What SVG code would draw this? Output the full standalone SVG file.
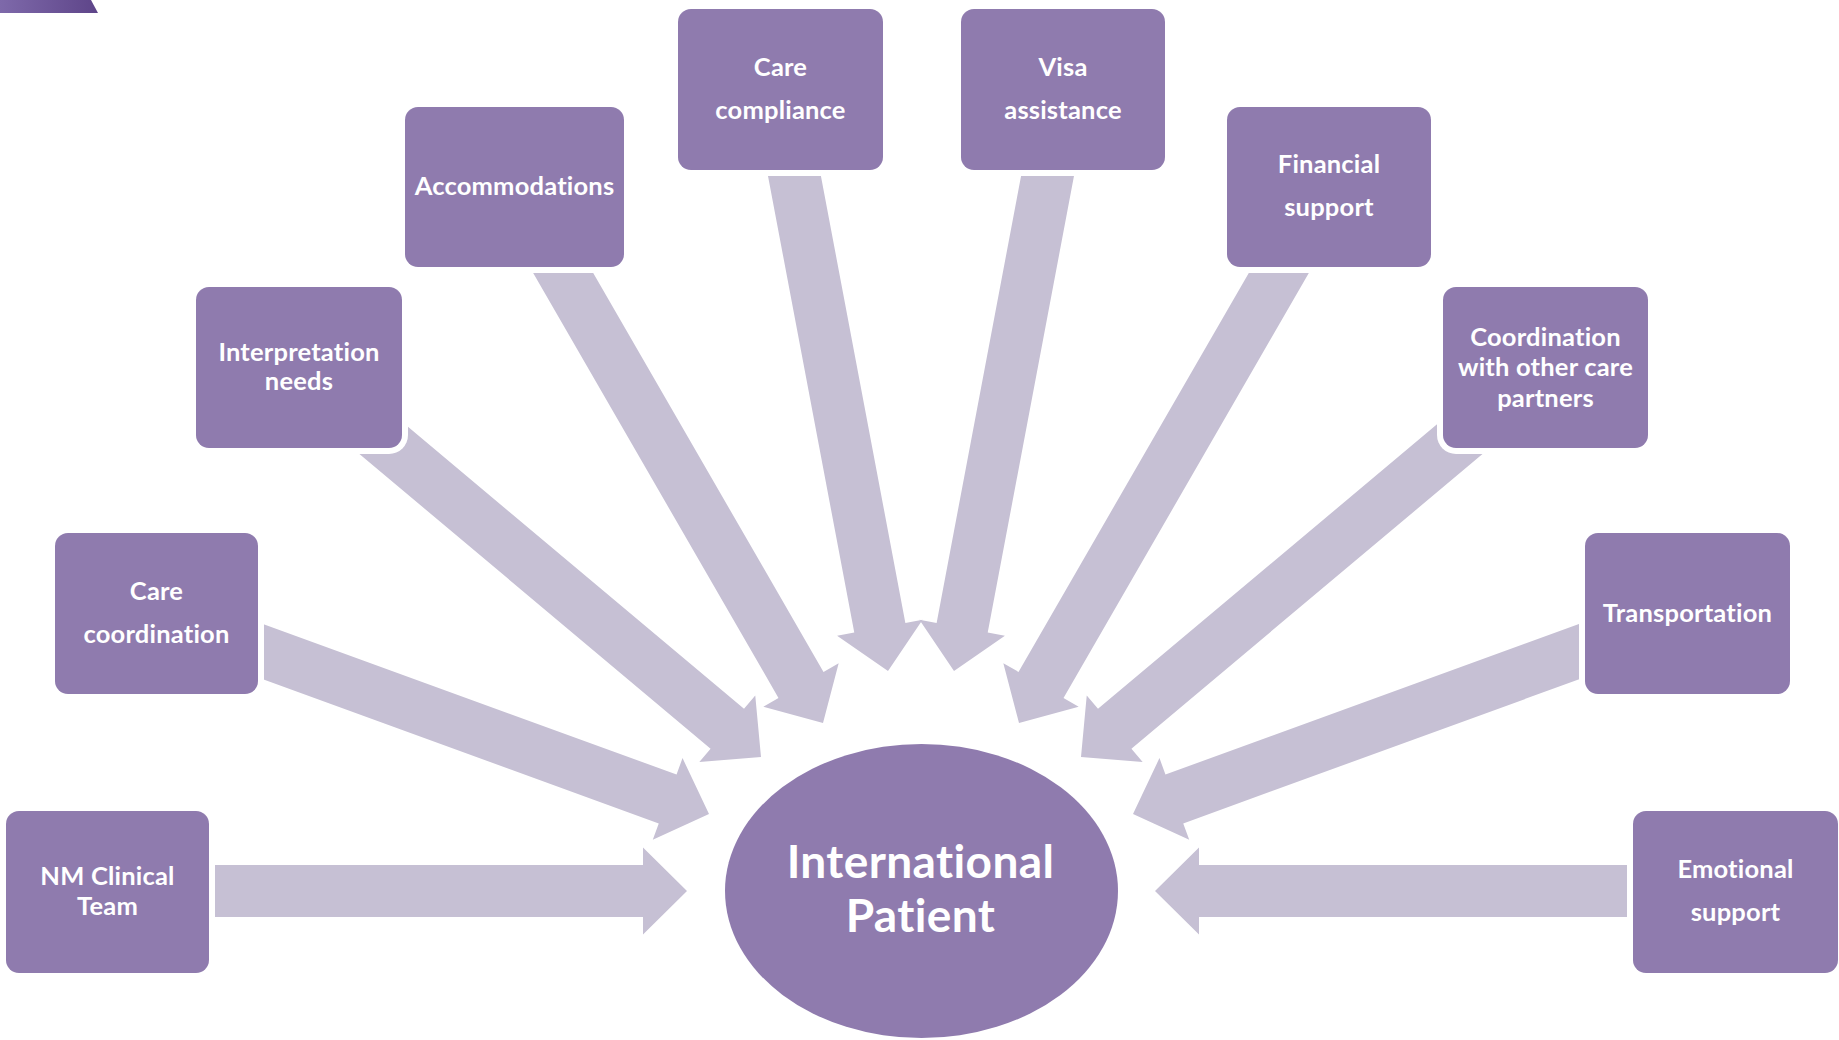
<svg xmlns="http://www.w3.org/2000/svg" xmlns:xlink="http://www.w3.org/1999/xlink" width="1839" height="1040" viewBox="0 0 1839 1040">
<defs>
<style>
.arrow{fill:#C6C0D4}
.halo{fill:#FFFFFF}
.box{fill:#8F7BAE}
.lbl{font-family:Lato,"Open Sans","Liberation Sans",sans-serif;font-weight:700;font-size:25.5px;fill:#FFFFFF;text-anchor:middle;font-variant-ligatures:none;font-feature-settings:"liga" 0,"clig" 0;letter-spacing:0.2px}
.big{font-size:46px;letter-spacing:0.4px}
</style>
<polygon id="arr" points="-560,-26 -44,-26 -44,-43.5 0,0 -44,43.5 -44,26 -560,26"/>
<linearGradient id="cornerGrad" x1="0" y1="0" x2="1" y2="0">
<stop offset="0" stop-color="#7E69AA"/>
<stop offset="1" stop-color="#5E4589"/>
</linearGradient>
</defs>
<rect x="0" y="0" width="1839" height="1040" fill="#FFFFFF"/>
<polygon points="0,0 91,0 98,13 0,13" fill="url(#cornerGrad)"/>
<g id="connectors">
<use xlink:href="#arr" href="#arr" class="arrow" transform="translate(687,891) rotate(0)"/>
<use xlink:href="#arr" href="#arr" class="arrow" transform="translate(709,814) rotate(20)"/>
<use xlink:href="#arr" href="#arr" class="arrow" transform="translate(761,757) rotate(40)"/>
<use xlink:href="#arr" href="#arr" class="arrow" transform="translate(823,723) rotate(60)"/>
<use xlink:href="#arr" href="#arr" class="arrow" transform="translate(888,671) rotate(79.3)"/>
<use xlink:href="#arr" href="#arr" class="arrow" transform="translate(954,671) rotate(100.7)"/>
<use xlink:href="#arr" href="#arr" class="arrow" transform="translate(1019,723) rotate(120)"/>
<use xlink:href="#arr" href="#arr" class="arrow" transform="translate(1081,757) rotate(140)"/>
<use xlink:href="#arr" href="#arr" class="arrow" transform="translate(1133,814) rotate(160)"/>
<use xlink:href="#arr" href="#arr" class="arrow" transform="translate(1155,891) rotate(180)"/>
</g>
<g id="node-nm-clinical-team">
<rect class="halo" x="0" y="805" width="215" height="174" rx="19"/>
<rect class="box" x="6" y="811" width="203" height="162" rx="13"/>
<text class="lbl" x="107.5" y="885">NM Clinical</text>
<text class="lbl" x="107.5" y="915">Team</text>
</g>
<g id="node-care-coordination">
<rect class="halo" x="49" y="527" width="215" height="173" rx="19"/>
<rect class="box" x="55" y="533" width="203" height="161" rx="13"/>
<text class="lbl" x="156.5" y="600">Care</text>
<text class="lbl" x="156.5" y="643">coordination</text>
</g>
<g id="node-interpretation-needs">
<rect class="halo" x="190" y="281" width="218" height="173" rx="19"/>
<rect class="box" x="196" y="287" width="206" height="161" rx="13"/>
<text class="lbl" x="299" y="361">Interpretation</text>
<text class="lbl" x="299" y="390">needs</text>
</g>
<g id="node-accommodations">
<rect class="halo" x="399" y="101" width="231" height="172" rx="19"/>
<rect class="box" x="405" y="107" width="219" height="160" rx="13"/>
<text class="lbl" x="514.5" y="195">Accommodations</text>
</g>
<g id="node-care-compliance">
<rect class="halo" x="672" y="3" width="217" height="173" rx="19"/>
<rect class="box" x="678" y="9" width="205" height="161" rx="13"/>
<text class="lbl" x="780.5" y="76">Care</text>
<text class="lbl" x="780.5" y="119">compliance</text>
</g>
<g id="node-visa-assistance">
<rect class="halo" x="955" y="3" width="216" height="173" rx="19"/>
<rect class="box" x="961" y="9" width="204" height="161" rx="13"/>
<text class="lbl" x="1063" y="76">Visa</text>
<text class="lbl" x="1063" y="119">assistance</text>
</g>
<g id="node-financial-support">
<rect class="halo" x="1221" y="101" width="216" height="172" rx="19"/>
<rect class="box" x="1227" y="107" width="204" height="160" rx="13"/>
<text class="lbl" x="1329" y="173">Financial</text>
<text class="lbl" x="1329" y="216">support</text>
</g>
<g id="node-coordination-partners">
<rect class="halo" x="1437" y="281" width="217" height="173" rx="19"/>
<rect class="box" x="1443" y="287" width="205" height="161" rx="13"/>
<text class="lbl" x="1545.5" y="346">Coordination</text>
<text class="lbl" x="1545.5" y="376">with other care</text>
<text class="lbl" x="1545.5" y="407">partners</text>
</g>
<g id="node-transportation">
<rect class="halo" x="1579" y="527" width="217" height="173" rx="19"/>
<rect class="box" x="1585" y="533" width="205" height="161" rx="13"/>
<text class="lbl" x="1687.5" y="622">Transportation</text>
</g>
<g id="node-emotional-support">
<rect class="halo" x="1627" y="805" width="217" height="174" rx="19"/>
<rect class="box" x="1633" y="811" width="205" height="162" rx="13"/>
<text class="lbl" x="1735.5" y="878">Emotional</text>
<text class="lbl" x="1735.5" y="921">support</text>
</g>
<g id="node-international-patient">
<ellipse class="box" cx="921.5" cy="891" rx="196.5" ry="147"/>
<text class="lbl big" x="920.5" y="878">International</text>
<text class="lbl big" x="920.5" y="932">Patient</text>
</g>
</svg>
